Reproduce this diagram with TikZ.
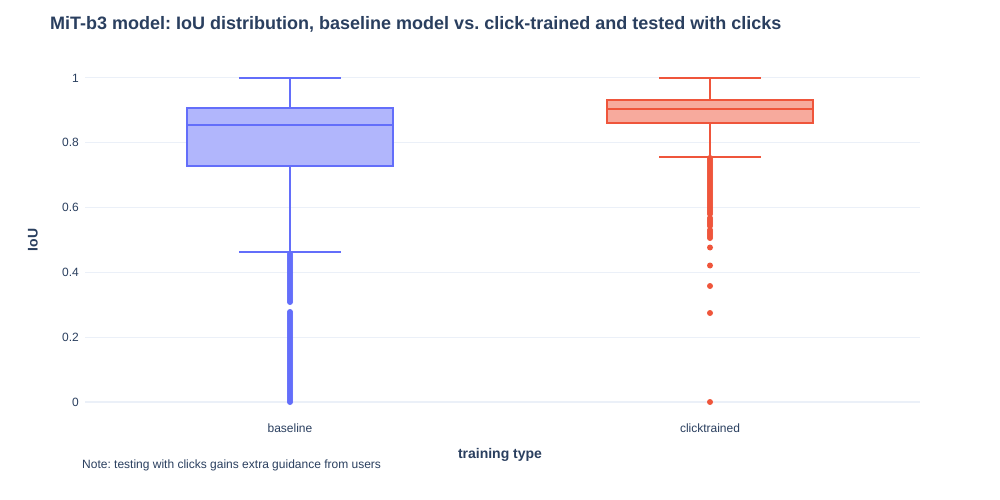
\documentclass[tikz,border=0pt]{standalone}
\usepackage{fontspec}
\setmainfont{Liberation Sans}
\frenchspacing
\definecolor{bl}{HTML}{636EFA}
\definecolor{rd}{HTML}{EF553B}
\definecolor{txt}{HTML}{2A3F5F}
\definecolor{gridc}{HTML}{EBF0F8}
\tikzset{
  gridline/.style={draw=gridc, line width=1},
  ticklab/.style={text=txt, font=\fontsize{12}{14}\selectfont, inner sep=0},
  axtitle/.style={text=txt, font=\bfseries\fontsize{14}{16}\selectfont, inner sep=0},
  bbox/.style={draw=bl, fill=bl!50!white, line width=2},
  bline/.style={draw=bl, line width=2},
  rbox/.style={draw=rd, fill=rd!50!white, line width=2},
  rline/.style={draw=rd, line width=2},
}
\begin{document}
\begin{tikzpicture}[x=1pt,y=-1pt]
\useasboundingbox (0,0) rectangle (1000,500);
\fill[white] (0,0) rectangle (1000,500);
% grid
\foreach \p in {78,142.8,207.6,272.4,337.2}{\draw[gridline] (85,\p) -- (920,\p);}
\draw[gridc, line width=2] (85,402) -- (920,402);
% y tick labels
\node[ticklab, anchor=east] (t1) at (79,78) {1};
\node[ticklab, anchor=east] (t08) at (79,142.8) {0.8};
\node[ticklab, anchor=east] (t06) at (79,207.6) {0.6};
\node[ticklab, anchor=east] (t04) at (79,272.4) {0.4};
\node[ticklab, anchor=east] (t02) at (79,337.2) {0.2};
\node[ticklab, anchor=east] (t0) at (79,402) {0};
% x tick labels
\node[ticklab] (xb) at (290,428.5) {baseline};
\node[ticklab] (xc) at (710,428.5) {clicktrained};
% axis titles
\node[axtitle] (xt) at (500,455) {training type};
\node[axtitle, rotate=90] (yt) at (33,240) {IoU};
% title
\node[text=txt, font=\bfseries\fontsize{18}{20}\selectfont, inner sep=0, anchor=west] (title) at (50,24) {MiT-b3 model: IoU distribution, baseline model vs. click-trained and tested with clicks};
% note
\node[ticklab, anchor=west] (note) at (82,465) {Note: testing with clicks gains extra guidance from users};
% baseline box
\draw[bline] (290,108) -- (290,78);
\draw[bline] (239,78) -- (341,78);
\draw[bline] (290,166) -- (290,252);
\draw[bline] (239,252) -- (341,252);
\draw[bbox] (187,108) rectangle (393,166);
\draw[bline] (187,125) -- (393,125);
% baseline outliers
\foreach \p in {254,256,...,302}{\fill[bl] (290,\p) circle (3);}
\foreach \p in {312,314,...,402}{\fill[bl] (290,\p) circle (3);}
% clicktrained box
\draw[rline] (710,100) -- (710,78);
\draw[rline] (659,78) -- (761,78);
\draw[rline] (710,123) -- (710,157);
\draw[rline] (659,157) -- (761,157);
\draw[rbox] (607,100) rectangle (813,123);
\draw[rline] (607,109) -- (813,109);
% clicktrained outliers
\foreach \p in {158,160,...,214}{\fill[rd] (710,\p) circle (3);}
\foreach \p in {218,220,...,226}{\fill[rd] (710,\p) circle (3);}
\foreach \p in {230,232,...,238}{\fill[rd] (710,\p) circle (3);}
\foreach \p in {247.5,265.5,286,313,402}{\fill[rd] (710,\p) circle (3);}
\end{tikzpicture}
\end{document}
